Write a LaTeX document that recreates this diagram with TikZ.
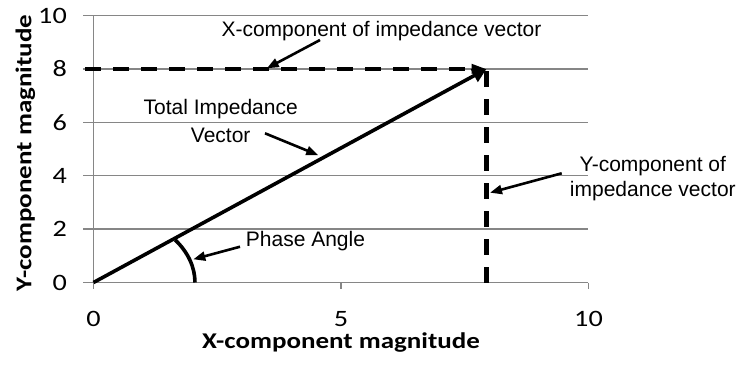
\documentclass[tikz,border=0pt]{standalone}
\usepackage{fontspec}
\setmainfont{Liberation Sans}
\newfontfamily\chartfont[FakeStretch=1.2]{Carlito}
\usetikzlibrary{arrows.meta}
\definecolor{gridgray}{HTML}{868686}
\definecolor{ink}{HTML}{000000}
\tikzset{
  gridln/.style  = {draw=gridgray, line width=1.3pt},
  vec/.style     = {draw=ink, line width=3.6pt, -{Triangle[length=14pt,width=14pt]}},
  comp/.style    = {draw=ink, line width=4.2pt, dash pattern=on 16pt off 12pt},
  arcln/.style   = {draw=ink, line width=3.6pt},
  pointer/.style = {draw=ink, line width=2.6pt, -{Triangle[length=12pt,width=9pt]}},
  note/.style    = {font=\fontsize{21}{28}\selectfont, text=ink, inner sep=0pt},
  ticklab/.style = {font=\chartfont\fontsize{23.5}{24}\selectfont, text=ink, inner sep=0pt},
  axtitle/.style = {font=\chartfont\bfseries\fontsize{22.5}{24}\selectfont, text=ink, inner sep=0pt},
}
\begin{document}
\begin{tikzpicture}[x=49.5pt,y=26.7pt]
    \useasboundingbox (-1.889,-3.090) rectangle (13.081,10.581);
    \foreach \v in {2,4,6,8,10}{
      \draw[gridln] (-0.21,\v) -- (10,\v);}
    \draw[gridln] (-0.21,0) -- (10,0);
    \draw[gridln] (0,0) -- (0,10);
    \foreach \v in {0,5,10}{
      \draw[gridln] (\v,0) -- (\v,-0.26);
      \node[ticklab] (xt\v) at (\v,-1.367) {\v};}
    \foreach \v in {0,2,...,10}{
      \node[ticklab,anchor=east] (yt\v) at (-0.535,\v) {\v};}
    \node[axtitle,anchor=base] (xtitle) at (5,-2.464) {X-component magnitude};
    \node[axtitle,anchor=base,rotate=90] (ytitle) at (-1.253,4.85) {Y-component magnitude};
    \coordinate (origin) at (0,0);
    \coordinate (corner) at (7.94,8);
    \coordinate (xstart) at (-0.17,8);
    \coordinate (ystart) at (7.94,0);
    \draw[comp] (ystart) -- (corner);
    \draw[comp,-{Triangle[length=15pt,width=9pt]}] (xstart) -- (corner);
    \draw[vec] (origin) -- (corner);
    \draw[arcln] (2.05,0) arc[start angle=0,end angle=36.4,x radius=2.05,y radius=2.69];
    \node[note,anchor=base] (xlab) at (5.818,9.232) {X-component of impedance vector};
    \coordinate (xtail) at (4.576,9.082);
    \coordinate (xhead) at (3.5,8.02);
    \draw[pointer] (xtail) -- (xhead);
    \node[note,anchor=base,align=center,font=\fontsize{21}{28.4}\selectfont] (vlab) at (2.57,5.236)
      {Total Impedance\\Vector};
    \coordinate (vtail) at (3.465,5.588);
    \coordinate (vhead) at (4.54,4.77);
    \draw[pointer] (vtail) -- (vhead);
    \node[note,anchor=base,align=center,font=\fontsize{21}{25.5}\selectfont] (ylab) at (11.30,3.221)
      {Y-component of\\impedance vector};
    \coordinate (ytail) at (9.459,4.09);
    \coordinate (yhead) at (8.01,3.363);
    \draw[pointer] (ytail) -- (yhead);
    \node[note,anchor=base west] (plab) at (3.075,1.34) {Phase Angle};
    \coordinate (ptail) at (2.96,1.34);
    \coordinate (phead) at (2.016,0.869);
    \draw[pointer] (ptail) -- (phead);
  \end{tikzpicture}
\end{document}
